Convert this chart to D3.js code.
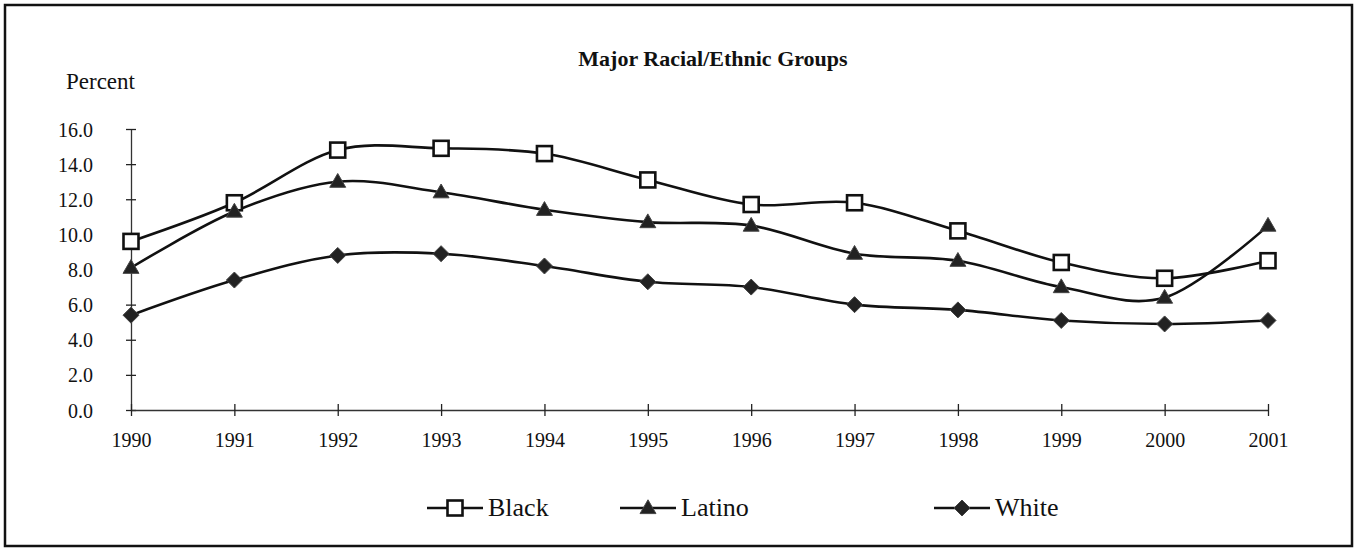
<!DOCTYPE html>
<html><head><meta charset="utf-8">
<script src="https://cdn.jsdelivr.net/npm/d3@7"></script>
<style>
html,body{margin:0;padding:0;background:#fff;}
svg text{font-family:"Liberation Serif","Times New Roman",serif;fill:#111;}
</style></head>
<body>
<svg id="chart" width="1356" height="550"></svg>
<script>
const years = ["1990","1991","1992","1993","1994","1995","1996","1997","1998","1999","2000","2001"];
const black  = [9.6, 11.8, 14.8, 14.9, 14.6, 13.1, 11.7, 11.8, 10.2, 8.4, 7.5, 8.5];
const latino = [8.1, 11.3, 13.0, 12.4, 11.4, 10.7, 10.5, 8.9, 8.5, 7.0, 6.4, 10.5];
const white  = [5.4, 7.4, 8.8, 8.9, 8.2, 7.3, 7.0, 6.0, 5.7, 5.1, 4.9, 5.1];
const yTicks = [0, 2, 4, 6, 8, 10, 12, 14, 16];
const seriesNames = ["Black", "Latino", "White"];

const svg = d3.select("#chart");
svg.append("rect").attr("x",5).attr("y",5).attr("width",1347).attr("height",541)
  .attr("fill","none").attr("stroke","#111").attr("stroke-width",2.5);

const x = d3.scalePoint().domain(years).range([131, 1268]);
const y = d3.scaleLinear().domain([0, 16]).range([410, 129]);

svg.append("text").attr("x",713).attr("y",66).attr("text-anchor","middle")
  .attr("font-size",22).attr("font-weight","bold").text("Major Racial/Ethnic Groups");
svg.append("text").attr("x",66).attr("y",89).attr("font-size",23).text("Percent");

// y axis
const yAxis = svg.append("g").attr("transform","translate(131,0)")
  .call(d3.axisLeft(y).tickValues(yTicks).tickFormat(d3.format(".1f")).tickSizeInner(5).tickSizeOuter(0).tickPadding(33));
yAxis.select(".domain").attr("stroke","#333").attr("stroke-width",1.3);
yAxis.selectAll(".tick line").attr("x1",5).attr("x2",-5).attr("stroke","#222").attr("stroke-width",1.3);
yAxis.selectAll(".tick text").attr("font-size",20).attr("font-family","Liberation Serif").attr("fill","#111").attr("dy","0.35em");

// x axis
const xAxis = svg.append("g").attr("transform","translate(0,410)")
  .call(d3.axisBottom(x).tickSizeInner(6).tickSizeOuter(0).tickPadding(17));
xAxis.select(".domain").attr("stroke","#333").attr("stroke-width",1.3);
xAxis.selectAll(".tick line").attr("y1",-6).attr("y2",6).attr("stroke","#222").attr("stroke-width",1.3);
xAxis.selectAll(".tick text").attr("font-size",20).attr("font-family","Liberation Serif").attr("fill","#111");

const line = d3.line().x((d,i)=>x(years[i])).y(d=>y(d)).curve(d3.curveCatmullRom.alpha(0));
const data = [black, latino, white];
data.forEach(s=>{
  svg.append("path").datum(s).attr("d",line).attr("fill","none").attr("stroke","#111").attr("stroke-width",2.6);
});

function marker(g, type, cx, cy){
  if(type===0){
    g.append("rect").attr("x",cx-7.5).attr("y",cy-7.5).attr("width",15).attr("height",15)
      .attr("fill","#fff").attr("stroke","#111").attr("stroke-width",2.6);
  } else if(type===1){
    g.append("path").attr("d",d3.symbol(d3.symbolTriangle,110)()).attr("transform",`translate(${cx},${cy+1})`)
      .attr("fill","#222").attr("stroke","#444").attr("stroke-width",1);
  } else {
    g.append("path").attr("d",`M${cx},${cy-8}L${cx+8},${cy}L${cx},${cy+8}L${cx-8},${cy}Z`)
      .attr("fill","#222").attr("stroke","#444").attr("stroke-width",1);
  }
}
const mg = svg.append("g");
data.forEach((s,k)=>{
  s.forEach((v,i)=>marker(mg,k,x(years[i]),y(v)));
});

// legend
const legX = [455, 648, 962];
const legY = 508;
seriesNames.forEach((n,k)=>{
  svg.append("line").attr("x1",legX[k]-28).attr("x2",legX[k]+28).attr("y1",legY).attr("y2",legY)
    .attr("stroke","#111").attr("stroke-width",2.6);
  marker(svg,k,legX[k],legY);
  svg.append("text").attr("x",legX[k]+33).attr("y",legY+8).attr("font-size",26).text(n);
});
</script>
</body></html>
